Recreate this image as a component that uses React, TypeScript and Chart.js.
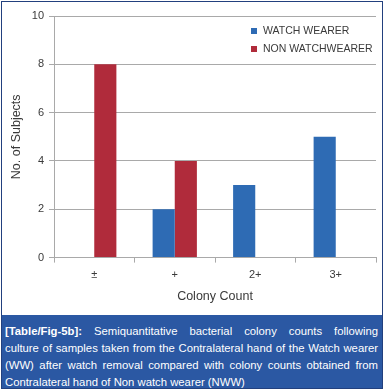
import React, { useEffect, useRef } from "react";
import { Chart, registerables } from "chart.js";

Chart.register(...registerables);

const categories = ["±", "+", "2+", "3+"];
const watchWearer = [0, 2, 3, 5];
const nonWatchWearer = [8, 4, 0, 0];
const seriesLabels = ["WATCH WEARER", "NON WATCHWEARER"];
const seriesColors = ["#2e6bb4", "#b02b3b"];
const yMin = 0;
const yMax = 10;
const yStep = 2;
const xTitle = "Colony Count";
const yTitle = "No. of Subjects";
const captionBold = "[Table/Fig-5b]:";
const captionLines = [
  " Semiquantitative bacterial colony counts following",
  "culture of samples taken from the Contralateral hand of the Watch wearer",
  "(WW) after watch removal compared with colony counts obtained from",
  "Contralateral hand of Non watch wearer (NWW)",
];

const FONT = '"Liberation Sans", Arial, sans-serif';
const GRID = "#a9a9a9";
const TEXT = "#3a3a3a";

const legendPlugin = {
  id: "insideLegend",
  afterDraw(chart: any) {
    const ctx = chart.ctx;
    ctx.save();
    ctx.font = `10.5px ${FONT}`;
    ctx.textBaseline = "middle";
    ctx.textAlign = "left";
    chart.data.datasets.forEach((ds: any, i: number) => {
      const y = 31 + i * 18;
      ctx.fillStyle = ds.backgroundColor;
      ctx.fillRect(251, y - 3, 6, 6);
      ctx.fillStyle = TEXT;
      ctx.fillText(ds.label, 263, y + 0.5);
    });
    ctx.restore();
  },
};

export default function App() {
  const canvasRef = useRef<HTMLCanvasElement | null>(null);

  useEffect(() => {
    if (!canvasRef.current) return;
    const chart = new Chart(canvasRef.current, {
      type: "bar",
      data: {
        labels: categories,
        datasets: [
          {
            label: seriesLabels[0],
            data: watchWearer,
            backgroundColor: seriesColors[0],
            borderWidth: 0,
            categoryPercentage: 0.55,
            barPercentage: 1,
          },
          {
            label: seriesLabels[1],
            data: nonWatchWearer,
            backgroundColor: seriesColors[1],
            borderWidth: 0,
            categoryPercentage: 0.55,
            barPercentage: 1,
          },
        ],
      },
      options: {
        animation: false,
        responsive: false,
        maintainAspectRatio: false,
        layout: { padding: { top: 16, right: 8, left: 0, bottom: 0 } },
        plugins: {
          legend: { display: false },
          tooltip: { enabled: false },
        },
        scales: {
          x: {
            grid: {
              display: true,
              drawOnChartArea: false,
              drawTicks: true,
              tickLength: 5,
              color: GRID,
              offset: true,
            },
            border: { display: true, color: GRID },
            ticks: { font: { family: FONT, size: 11 }, color: TEXT, padding: 6 },
            title: {
              display: true,
              text: xTitle,
              font: { family: FONT, size: 12.5 },
              color: TEXT,
              padding: { top: 0, bottom: 10.8 },
            },
            afterFit: (scale: any) => {
              scale.height = 57.4;
            },
          },
          y: {
            min: yMin,
            max: yMax,
            ticks: {
              stepSize: yStep,
              font: { family: FONT, size: 11 },
              color: TEXT,
              padding: 5,
            },
            grid: { color: GRID, tickLength: 5, drawTicks: true },
            border: { display: true, color: GRID },
            title: {
              display: true,
              text: yTitle,
              font: { family: FONT, size: 12.5 },
              color: TEXT,
              padding: { top: 9.5, bottom: 0 },
            },
            afterFit: (scale: any) => {
              scale.width = 54;
            },
          },
        },
      },
      plugins: [legendPlugin],
    });
    return () => chart.destroy();
  }, []);

  return (
    <div
      style={{
        position: "absolute",
        left: 0,
        top: 0,
        width: 384,
        height: 391,
        background: "#ffffff",
        overflow: "hidden",
      }}
    >
      <canvas
        ref={canvasRef}
        width={384}
        height={315}
        style={{ position: "absolute", left: 0, top: 0, width: 384, height: 315 }}
      />
      <div
        style={{
          position: "absolute",
          left: 1,
          top: 315,
          width: 382,
          height: 73,
          background: "#2b58a3",
          color: "#ffffff",
          font: `11.3px ${FONT}`,
          boxSizing: "border-box",
          paddingTop: 8,
          paddingLeft: 4,
          paddingRight: 5,
        }}
      >
        {captionLines.map((line, i) => (
          <div
            key={i}
            style={{
              height: 17,
              lineHeight: "17px",
              whiteSpace: "nowrap",
              textAlign: i < captionLines.length - 1 ? "justify" : "left",
              textAlignLast: i < captionLines.length - 1 ? "justify" : "left",
            }}
          >
            {i === 0 ? <b>{captionBold}</b> : null}
            {line}
          </div>
        ))}
      </div>
      <div
        style={{
          position: "absolute",
          left: 1,
          top: 1,
          width: 382,
          height: 388,
          boxSizing: "border-box",
          border: "1px solid #22407e",
          pointerEvents: "none",
        }}
      />
    </div>
  );
}
